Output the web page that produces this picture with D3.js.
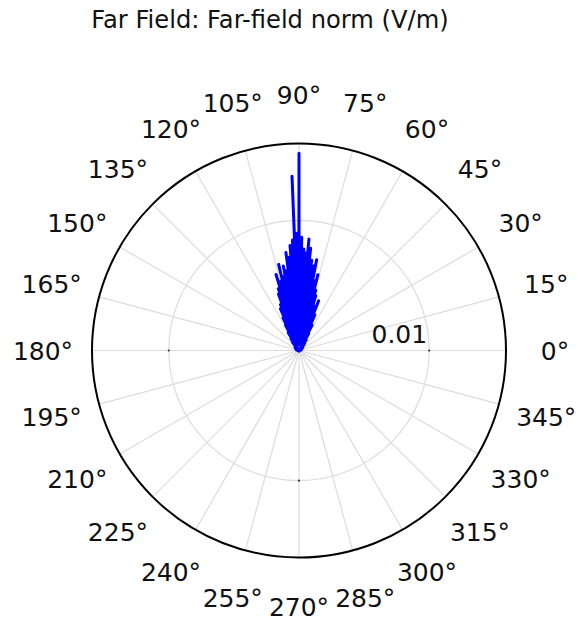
<!DOCTYPE html>
<html>
<head>
<meta charset="utf-8">
<script src="https://cdn.jsdelivr.net/npm/d3@7"></script>
<style>
  body { margin: 0; background: #fff; }
  svg { display: block; font-family: "DejaVu Sans", sans-serif; }
</style>
</head>
<body>
<div id="chart"></div>
<script>
// Chart text
const title = 'Far Field: Far-field norm (V/m)';

// Angular ticks (degrees) and radial ticks (V/m)
const angleTicks = [0, 15, 30, 45, 60, 75, 90, 105, 120, 135, 150, 165,
  180, 195, 210, 225, 240, 255, 270, 285, 300, 315, 330, 345];
const radialTicks = [0.01];
const radialMax = 0.0159;

// Far-field pattern: angle (deg) and norm (V/m)
const patternAngles = [
  0, 20, 35, 45, 52, 54, 56, 58, 60, 61.5, 63, 64.5, 66, 67.2, 68.5, 69.8,
  71, 72, 73, 73.8, 74.5, 75.3, 76, 76.8, 77.5, 78.3, 79, 79.5, 80, 81,
  82, 82.8, 83.5, 84.2, 84.9, 85.5, 86, 86.7, 87.3, 88, 88.6, 89.3, 90, 90.6,
  91.2, 91.7, 92.3, 92.9, 93.4, 94.2, 94.9, 95.6, 96.3, 96.9, 97.6, 98.3,
  99, 99.7, 100.5, 101.2, 102, 102.6, 103.3, 104.2, 105, 105.9, 106.8, 107.6,
  108.5, 109.2, 110, 111, 112, 113, 114, 115, 116, 117, 118, 119.5, 121,
  122.5, 124, 126, 128, 132, 140, 150, 165, 180, 270, 360
];
const patternNorms = [
  0.0001, 0.0002, 0.0003, 0.0004, 0.0007, 0.0002, 0.0010, 0.0003, 0.0015, 0.0003,
  0.0022, 0.0004, 0.0030, 0.0005, 0.0041, 0.0004, 0.0036, 0.0005, 0.0044, 0.0004,
  0.0048, 0.0006, 0.0060, 0.0005, 0.0055, 0.0006, 0.0071, 0.0008, 0.0066, 0.0005,
  0.0070, 0.0007, 0.0079, 0.0006, 0.0086, 0.0008, 0.0075, 0.0006, 0.0078, 0.0009,
  0.0087, 0.0010, 0.01515, 0.0011, 0.0090, 0.0009, 0.0134, 0.0008, 0.0085, 0.0007,
  0.0081, 0.0006, 0.0072, 0.0007, 0.0076, 0.0005, 0.0062, 0.0006, 0.0066, 0.0005,
  0.0058, 0.0006, 0.0068, 0.0005, 0.0055, 0.0006, 0.0061, 0.0004, 0.0050, 0.0005,
  0.0046, 0.0004, 0.0038, 0.0005, 0.0035, 0.0004, 0.0028, 0.0003, 0.0022, 0.0003,
  0.0016, 0.0002, 0.0011, 0.0002, 0.0008, 0.0002, 0.0004, 0.0003, 0.0002, 0.0001,
  0.00005, 0.0001
];

const width = 579;
const height = 621;
const cx = 299;
const cy = 350.5;
const outerR = 207;

const svg = d3.select('#chart').append('svg')
  .attr('width', width)
  .attr('height', height);

// scales: r in V/m, angle in degrees (0 at 3 o'clock, counter-clockwise)
const r = d3.scaleLinear().domain([0, radialMax]).range([0, outerR]);
const a = d3.scaleLinear().domain([0, 360]).range([Math.PI / 2, Math.PI / 2 - 2 * Math.PI]);

const toXY = (deg, rad) => {
  const t = deg * Math.PI / 180;
  return [cx + rad * Math.cos(t), cy - rad * Math.sin(t)];
};

const plot = svg.append('g').attr('transform', `translate(${cx},${cy})`);

// grid: spokes
plot.selectAll('.spoke')
  .data(angleTicks)
  .enter()
  .append('line')
  .attr('class', 'spoke')
  .attr('x1', 0).attr('y1', 0)
  .attr('x2', d => outerR * Math.cos(d * Math.PI / 180))
  .attr('y2', d => -outerR * Math.sin(d * Math.PI / 180))
  .attr('stroke', '#dcdcdc')
  .attr('stroke-width', 1.2);

// grid: circles
plot.selectAll('.ring')
  .data(radialTicks)
  .enter()
  .append('circle')
  .attr('class', 'ring')
  .attr('r', d => r(d))
  .attr('fill', 'none')
  .attr('stroke', '#dcdcdc')
  .attr('stroke-width', 1.2);

// small tick marks on the ring at the four axes
const tickAngles = [0, 90, 180, 270];
radialTicks.forEach(v => {
  plot.selectAll(null)
    .data(tickAngles)
    .enter()
    .append('circle')
    .attr('cx', d => r(v) * Math.cos(d * Math.PI / 180))
    .attr('cy', d => -r(v) * Math.sin(d * Math.PI / 180))
    .attr('r', 1.1)
    .attr('fill', '#333');
});

// pattern line
const pattern = patternAngles.map((d, i) => ({ angle: d, value: patternNorms[i] }));
const line = d3.lineRadial()
  .angle(d => a(d.angle))
  .radius(d => r(d.value));

plot.append('path')
  .datum(pattern)
  .attr('d', line)
  .attr('fill', 'none')
  .attr('stroke', '#0000ff')
  .attr('stroke-width', 3)
  .attr('stroke-linejoin', 'round');

// outer circle
plot.append('circle')
  .attr('r', outerR)
  .attr('fill', 'none')
  .attr('stroke', '#000')
  .attr('stroke-width', 2);

// radial tick label
plot.selectAll('.rlabel')
  .data(radialTicks)
  .enter()
  .append('text')
  .attr('x', d => r(d) - 2)
  .attr('y', -8)
  .attr('text-anchor', 'end')
  .attr('font-size', 25)
  .attr('fill', '#111')
  .text(d => d);

// angle labels
const labelR = 256;
const fs = 25;
svg.selectAll('.alabel')
  .data(angleTicks)
  .enter()
  .append('text')
  .attr('x', d => toXY(d, labelR)[0])
  .attr('y', d => toXY(d, labelR)[1] + fs * 0.36)
  .attr('text-anchor', 'middle')
  .attr('font-size', fs)
  .attr('fill', '#111')
  .text(d => d + '°');

// title
svg.append('text')
  .attr('x', 270)
  .attr('y', 28)
  .attr('text-anchor', 'middle')
  .attr('font-size', 24.2)
  .attr('fill', '#111')
  .text(title);
</script>
</body>
</html>
